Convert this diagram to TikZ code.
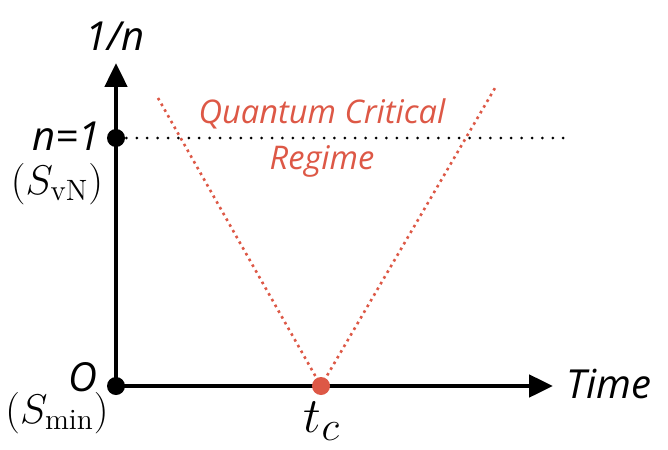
\documentclass[tikz,border=0pt]{standalone}
\usepackage{fontspec}
\setsansfont{Open Sans}
\usetikzlibrary{arrows.meta}
\definecolor{qred}{RGB}{221,88,70}
\tikzset{
  axis/.style={line width=2.4pt,-{Triangle[length=12pt,width=11pt]}},
  bigdot/.style={circle,fill=black,inner sep=0pt,minimum size=9pt},
  reddot/.style={circle,fill=qred,inner sep=0pt,minimum size=9pt},
  hand/.style={font=\sffamily\itshape\fontsize{20}{22}\selectfont,inner sep=1pt},
  redtxt/.style={font=\sffamily\itshape\fontsize{16.3}{18}\selectfont,text=qred},
  mathlbl/.style={font=\fontsize{21}{23}\selectfont,inner sep=1pt},
}
\begin{document}
\begin{tikzpicture}[x=0.5pt,y=-0.5pt]
\useasboundingbox (0,0) rectangle (668,449);
\coordinate (O) at (116,386);
\coordinate (ytop) at (116,63);
\coordinate (xend) at (553,386);
\coordinate (dotend) at (565,138);
\coordinate (L) at (158,98);
\coordinate (R) at (495,88);
\draw[qred,line width=1.3pt,dotted] (L) -- (321,386) -- (R);
\draw[line width=1.5pt,dash pattern=on 0pt off 5.2pt,line cap=round] (116,138) -- (dotend);
\draw[axis] (O) -- (ytop);
\draw[axis] (O) -- (xend);
\node[bigdot] (n1) at (116,138) {};
\node[bigdot] (o) at (116,386) {};
\node[reddot] (tc) at (321,386) {};
\node[hand] (ylab) at (115,36) {1/n};
\node[hand,anchor=east] (n1lab) at (103,136) {n=1};
\node[mathlbl] (svn) at (57,184) {$(S_{\mathrm{vN}})$};
\node[hand,anchor=east,inner sep=0pt] (olab) at (98,377) {O};
\node[mathlbl] (smin) at (57,413) {$(S_{\min})$};
\node[font=\fontsize{29}{31}\selectfont] (tclab) at (322,421) {$t_c$};
\node[hand,anchor=west] (time) at (564,384) {Time};
\node[redtxt] (q1) at (322,114) {Quantum Critical};
\node[redtxt] (q2) at (322,161) {Regime};
\end{tikzpicture}
\end{document}
